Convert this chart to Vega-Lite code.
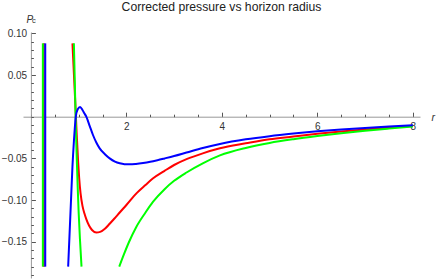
{
 "$schema": "https://vega.github.io/schema/vega-lite/v6.json",
 "width": 397, "height": 246,
 "autosize": "none",
 "padding": {"left": 23, "top": 32, "right": 16, "bottom": 2},
 "background": "white",
 "title": {"text": "Corrected pressure vs horizon radius", "fontSize": 12.2, "font": "Liberation Sans", "fontWeight": "normal", "color": "#222", "anchor": "middle", "frame": "group", "baseline": "alphabetic", "offset": -8.5},
 "config": {"view": {"stroke": null}, "axis": {"grid": false}},
 "resolve": {"axis": {"x": "independent", "y": "independent"}},
 "layer": [
  {
   "data": {"values": [
    {"s":"red","seg":"r1","r":0.27,"P":0.088},{"s":"red","seg":"r1","r":0.27,"P":-0.18},
    {"s":"red","seg":"r2","r":0.87,"P":0.088},{"s":"red","seg":"r2","r":0.90,"P":0.052},{"s":"red","seg":"r2","r":0.93,"P":0.016},{"s":"red","seg":"r2","r":0.96,"P":-0.022},{"s":"red","seg":"r2","r":0.99,"P":-0.055},{"s":"red","seg":"r2","r":1.01,"P":-0.073},{"s":"red","seg":"r2","r":1.04,"P":-0.092},{"s":"red","seg":"r2","r":1.08,"P":-0.107},{"s":"red","seg":"r2","r":1.12,"P":-0.116},{"s":"red","seg":"r2","r":1.16,"P":-0.123},{"s":"red","seg":"r2","r":1.22,"P":-0.131},{"s":"red","seg":"r2","r":1.28,"P":-0.136},{"s":"red","seg":"r2","r":1.37,"P":-0.139},{"s":"red","seg":"r2","r":1.45,"P":-0.1383},{"s":"red","seg":"r2","r":1.55,"P":-0.1345},{"s":"red","seg":"r2","r":1.65,"P":-0.1285},{"s":"red","seg":"r2","r":1.75,"P":-0.1222},{"s":"red","seg":"r2","r":1.86,"P":-0.115},{"s":"red","seg":"r2","r":2.0,"P":-0.106},{"s":"red","seg":"r2","r":2.21,"P":-0.092},{"s":"red","seg":"r2","r":2.4,"P":-0.082},{"s":"red","seg":"r2","r":2.56,"P":-0.074},{"s":"red","seg":"r2","r":2.8,"P":-0.065},{"s":"red","seg":"r2","r":3.0,"P":-0.058},{"s":"red","seg":"r2","r":3.26,"P":-0.051},{"s":"red","seg":"r2","r":3.6,"P":-0.044},{"s":"red","seg":"r2","r":3.96,"P":-0.038},{"s":"red","seg":"r2","r":4.5,"P":-0.032},{"s":"red","seg":"r2","r":5.0,"P":-0.027},{"s":"red","seg":"r2","r":5.5,"P":-0.0238},{"s":"red","seg":"r2","r":6.0,"P":-0.0205},{"s":"red","seg":"r2","r":6.5,"P":-0.0177},{"s":"red","seg":"r2","r":7.0,"P":-0.0153},{"s":"red","seg":"r2","r":7.5,"P":-0.0131},{"s":"red","seg":"r2","r":8.0,"P":-0.0111},
    {"s":"green","seg":"g1","r":0.25,"P":0.088},{"s":"green","seg":"g1","r":0.25,"P":-0.18},
    {"s":"green","seg":"g2","r":0.90,"P":0.088},{"s":"green","seg":"g2","r":0.92,"P":0.04},{"s":"green","seg":"g2","r":0.94,"P":-0.01},{"s":"green","seg":"g2","r":0.96,"P":-0.05},{"s":"green","seg":"g2","r":0.98,"P":-0.085},{"s":"green","seg":"g2","r":1.0,"P":-0.115},{"s":"green","seg":"g2","r":1.03,"P":-0.15},{"s":"green","seg":"g2","r":1.06,"P":-0.18},
    {"s":"green","seg":"g3","r":1.85,"P":-0.18},{"s":"green","seg":"g3","r":1.95,"P":-0.165},{"s":"green","seg":"g3","r":2.05,"P":-0.151},{"s":"green","seg":"g3","r":2.21,"P":-0.132},{"s":"green","seg":"g3","r":2.4,"P":-0.115},{"s":"green","seg":"g3","r":2.56,"P":-0.102},{"s":"green","seg":"g3","r":2.8,"P":-0.087},{"s":"green","seg":"g3","r":3.0,"P":-0.077},{"s":"green","seg":"g3","r":3.26,"P":-0.067},{"s":"green","seg":"g3","r":3.6,"P":-0.056},{"s":"green","seg":"g3","r":3.96,"P":-0.0465},{"s":"green","seg":"g3","r":4.5,"P":-0.0375},{"s":"green","seg":"g3","r":5.0,"P":-0.0315},{"s":"green","seg":"g3","r":5.5,"P":-0.027},{"s":"green","seg":"g3","r":6.0,"P":-0.0232},{"s":"green","seg":"g3","r":6.5,"P":-0.0198},{"s":"green","seg":"g3","r":7.0,"P":-0.0169},{"s":"green","seg":"g3","r":7.5,"P":-0.0143},{"s":"green","seg":"g3","r":8.0,"P":-0.0118},
    {"s":"blue","seg":"b1","r":0.30,"P":0.088},{"s":"blue","seg":"b1","r":0.30,"P":-0.18},
    {"s":"blue","seg":"b2","r":0.78,"P":-0.18},{"s":"blue","seg":"b2","r":0.81,"P":-0.14},{"s":"blue","seg":"b2","r":0.84,"P":-0.10},{"s":"blue","seg":"b2","r":0.87,"P":-0.06},{"s":"blue","seg":"b2","r":0.90,"P":-0.03},{"s":"blue","seg":"b2","r":0.94,"P":0.0},{"s":"blue","seg":"b2","r":0.98,"P":0.009},{"s":"blue","seg":"b2","r":1.03,"P":0.0116},{"s":"blue","seg":"b2","r":1.08,"P":0.008},{"s":"blue","seg":"b2","r":1.12,"P":0.004},{"s":"blue","seg":"b2","r":1.16,"P":0.0},{"s":"blue","seg":"b2","r":1.23,"P":-0.011},{"s":"blue","seg":"b2","r":1.30,"P":-0.022},{"s":"blue","seg":"b2","r":1.37,"P":-0.031},{"s":"blue","seg":"b2","r":1.44,"P":-0.038},{"s":"blue","seg":"b2","r":1.55,"P":-0.045},{"s":"blue","seg":"b2","r":1.65,"P":-0.050},{"s":"blue","seg":"b2","r":1.76,"P":-0.054},{"s":"blue","seg":"b2","r":1.86,"P":-0.056},{"s":"blue","seg":"b2","r":1.96,"P":-0.057},{"s":"blue","seg":"b2","r":2.07,"P":-0.0572},{"s":"blue","seg":"b2","r":2.2,"P":-0.0567},{"s":"blue","seg":"b2","r":2.35,"P":-0.0556},{"s":"blue","seg":"b2","r":2.5,"P":-0.0541},{"s":"blue","seg":"b2","r":2.65,"P":-0.0522},{"s":"blue","seg":"b2","r":2.8,"P":-0.0501},{"s":"blue","seg":"b2","r":3.0,"P":-0.0472},{"s":"blue","seg":"b2","r":3.26,"P":-0.0430},{"s":"blue","seg":"b2","r":3.6,"P":-0.0375},{"s":"blue","seg":"b2","r":3.96,"P":-0.0327},{"s":"blue","seg":"b2","r":4.5,"P":-0.0272},{"s":"blue","seg":"b2","r":5.0,"P":-0.0234},{"s":"blue","seg":"b2","r":5.5,"P":-0.0203},{"s":"blue","seg":"b2","r":6.0,"P":-0.0176},{"s":"blue","seg":"b2","r":6.5,"P":-0.0154},{"s":"blue","seg":"b2","r":7.0,"P":-0.0135},{"s":"blue","seg":"b2","r":7.5,"P":-0.0118},{"s":"blue","seg":"b2","r":8.0,"P":-0.0103}
   ]},
   "mark": {"type": "line", "strokeWidth": 2, "interpolate": "monotone"},
   "encoding": {
    "x": {"field": "r", "type": "quantitative",
     "scale": {"domain": [-0.166, 8.151], "nice": false, "zero": false},
     "axis": {"orient": "bottom", "offset": -161.3,
      "values": [2, 4, 6, 8], "format": "d",
      "tickSize": -4.5,
      "tickColor": "#555", "tickWidth": 1, "domainColor": "#999", "domainWidth": 1,
      "labelFont": "Liberation Sans", "labelFontSize": 10, "labelColor": "#333", "labelPadding": 9.3,
      "labelOverlap": false, "labelFlush": false, "labelBound": false,
      "title": "r", "titleFont": "Liberation Sans", "titleFontStyle": "italic", "titleFontWeight": "normal", "titleFontSize": 10.5, "titleColor": "#333",
      "titleX": 408, "titleY": 3.5, "titleAlign": "left", "titleBaseline": "alphabetic", "titleAngle": 0, "grid": false}},
    "y": {"field": "P", "type": "quantitative",
     "scale": {"domain": [-0.1936, 0.1016], "nice": false, "zero": false},
     "axis": {"orient": "left", "offset": -7.9,
      "values": [-0.15, -0.1, -0.05, 0.05, 0.1], "format": ".2f",
      "tickSize": -4.5,
      "tickColor": "#555", "tickWidth": 1, "domainColor": "#999", "domainWidth": 1,
      "labelFont": "Liberation Sans", "labelFontSize": 10, "labelColor": "#333", "labelPadding": 8.8,
      "labelOverlap": false, "labelFlush": false, "labelBound": false,
      "title": "P", "titleFont": "Liberation Sans", "titleFontStyle": "italic", "titleFontWeight": "normal", "titleFontSize": 10, "titleColor": "#333",
      "titleX": -5, "titleY": -9.3, "titleAlign": "left", "titleBaseline": "alphabetic", "titleAngle": 0, "grid": false}},
    "color": {"field": "s", "type": "nominal", "scale": {"domain": ["red", "green", "blue"], "range": ["#ff0000", "#00ff00", "#0000ff"]}, "legend": null},
    "detail": {"field": "seg"}
   }
  },
  {
   "data": {"values": [{"t": "c"}]},
   "mark": {"type": "text", "fontSize": 7.5, "font": "Liberation Sans", "color": "#333", "align": "left", "baseline": "alphabetic"},
   "encoding": {
    "x": {"datum": 0.023, "type": "quantitative",
     "axis": {"orient": "bottom", "offset": -161.3,
      "values": [0,0.5,1,1.5,2.5,3,3.5,4.5,5,5.5,6.5,7,7.5],
      "tickSize": -2.5, "tickColor": "#555", "tickWidth": 1,
      "domain": false, "labels": false, "title": null, "grid": false}},
    "y": {"datum": 0.1124, "type": "quantitative",
     "axis": {"orient": "left", "offset": -7.9,
      "values": [-0.19,-0.18,-0.17,-0.16,-0.14,-0.13,-0.12,-0.11,-0.09,-0.08,-0.07,-0.06,-0.04,-0.03,-0.02,-0.01,0,0.01,0.02,0.03,0.04,0.06,0.07,0.08,0.09],
      "tickSize": -2.5, "tickColor": "#555", "tickWidth": 1,
      "domain": false, "labels": false, "title": null, "grid": false}},
    "text": {"field": "t"}
   }
  }
 ]
}
